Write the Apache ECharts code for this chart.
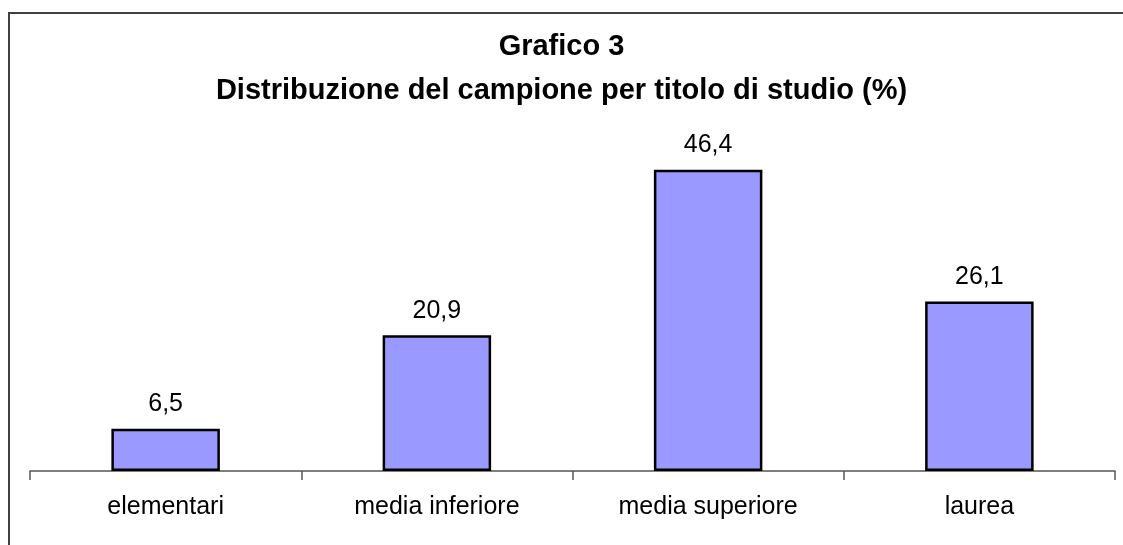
<!DOCTYPE html>
<html>
<head>
<meta charset="utf-8">
<script src="https://cdn.jsdelivr.net/npm/echarts@6/dist/echarts.min.js"></script>
<style>
  html, body { margin: 0; padding: 0; background: #fff; }
  #main { width: 1123px; height: 545px; position: relative; }
  #frame { position: absolute; left: 8px; top: 12px; width: 1130px; height: 560px;
           border-left: 2px solid #404040; border-top: 2px solid #404040; pointer-events: none; }
</style>
</head>
<body>
<div id="main"></div>
<div id="frame"></div>
<script>
// categorie e valori (%)
var categorie = ['elementari', 'media inferiore', 'media superiore', 'laurea'];
var valori = [6.5, 20.9, 46.4, 26.1];

var chart = echarts.init(document.getElementById('main'));
var option = {
    animation: false,
    title: {
        text: 'Grafico 3\nDistribuzione del campione per titolo di studio (%)',
        left: 'center',
        top: 20,
        textStyle: {
            fontFamily: 'Liberation Sans',
            fontWeight: 'bold',
            fontSize: 29,
            lineHeight: 44,
            color: '#000'
        }
    },
    grid: { left: 30, right: 8, top: 146.5, bottom: 74 },
    xAxis: {
        type: 'category',
        data: categorie,
        axisLine: { lineStyle: { color: '#555', width: 1.5 } },
        axisTick: { show: true, length: 9, lineStyle: { color: '#555', width: 1.5 } },
        axisLabel: {
            margin: 24,
            fontFamily: 'Liberation Sans',
            fontSize: 25,
            color: '#000'
        }
    },
    yAxis: {
        type: 'value',
        min: 0,
        max: 50,
        show: false
    },
    series: [{
        type: 'bar',
        data: valori,
        barWidth: '40%',
        itemStyle: { color: '#9999FF', borderColor: '#000', borderWidth: 2.5 },
        label: {
            show: true,
            position: 'top',
            distance: 12,
            fontFamily: 'Liberation Sans',
            fontSize: 25,
            color: '#000',
            formatter: function (p) { return String(p.value).replace('.', ','); }
        }
    }]
};
chart.setOption(option);
</script>
</body>
</html>
